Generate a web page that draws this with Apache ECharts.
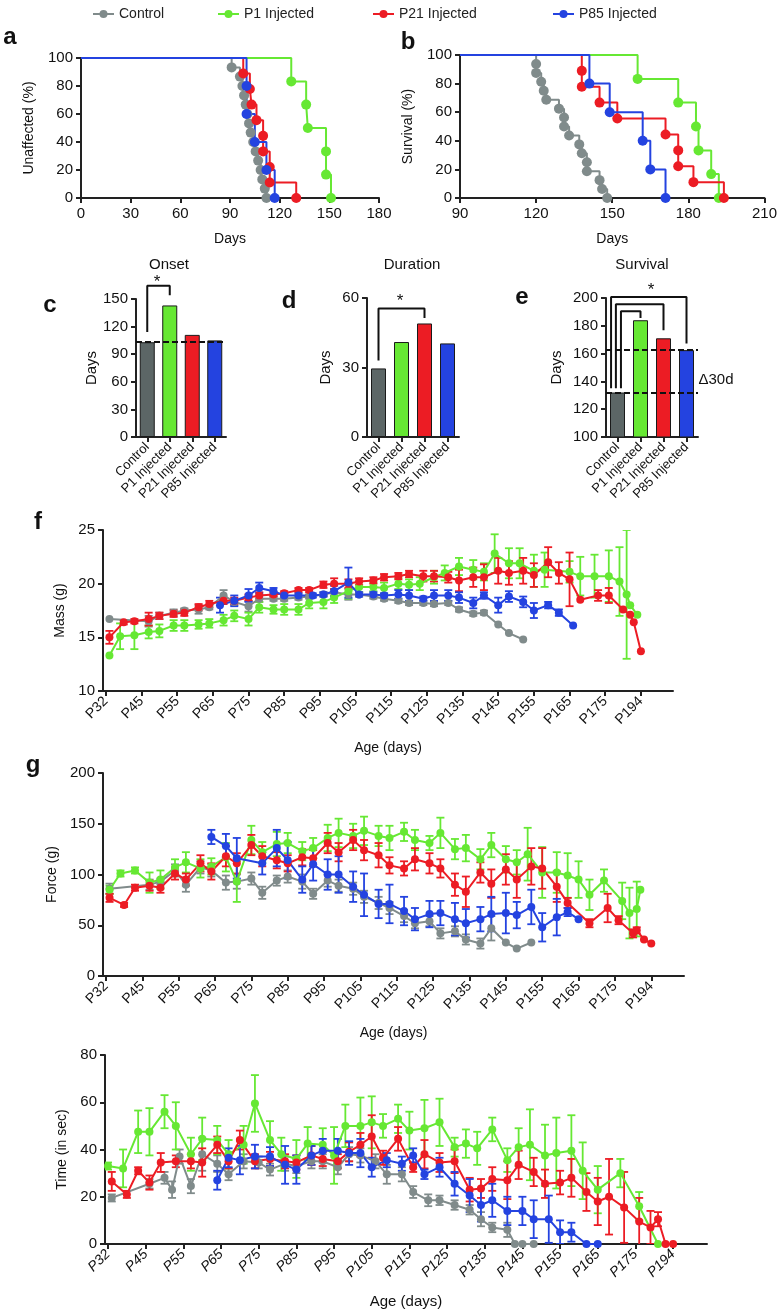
<!DOCTYPE html>
<html><head><meta charset="utf-8">
<script src="https://cdn.jsdelivr.net/npm/echarts@6/dist/echarts.min.js"></script>
<style>html,body{margin:0;padding:0;background:#fff}#c{width:780px;height:1313px}</style>
</head><body><div id="c"></div>
<script>
// ---------- DATA ----------
const groups = ['Control', 'P1 Injected', 'P21 Injected', 'P85 Injected'];
const colors = ['#808b8b', '#66e833', '#ec1c24', '#2443e0'];
const barColors = ['#5c6666', '#66e833', '#ec1c24', '#2443e0'];

// Kaplan-Meier events [day, percent]
const onsetKmControl = [[91,93.3],[96,86.7],[97.5,80],[98.5,73.3],[99.5,66.7],[100.5,60],[101.5,53.3],[102.5,46.7],[104,40],[105.5,33.3],[107,26.7],[108.5,20],[109.5,13.3],[111,6.7],[112,0]];
const onsetKmP1 = [[127,83.3],[136,66.7],[137,50],[148,33.3],[148,16.7],[151,0]];
const onsetKmP21 = [[98,88.9],[102,77.8],[103,66.7],[106,55.6],[110,44.4],[110,33.3],[114,22.2],[114,11.1],[130,0]];
const onsetKmP85 = [[100,80],[100,60],[105,40],[112,20],[117,0]];

const survKmControl = [[120,93.75],[120,87.5],[122,81.25],[123,75],[124,68.75],[129,62.5],[131,56.25],[131,50],[133,43.75],[137,37.5],[138,31.25],[140,25],[140,18.75],[145,12.5],[146,6.25],[148,0]];
const survKmP1 = [[160,83.3],[176,66.7],[183,50],[184,33.3],[189,16.7],[192,0]];
const survKmP21 = [[138,88.9],[138,77.8],[145,66.7],[152,55.6],[171,44.4],[176,33.3],[176,22.2],[182,11.1],[194,0]];
const survKmP85 = [[141,80],[149,60],[162,40],[165,20],[171,0]];

// Bar panels (days)
const onsetDays = [103, 143, 111, 105];
const durationDays = [29.6, 41, 49, 40.4];
const survivalDays = [132, 184, 171, 162.5];

// significance brackets [group position, days]
const onsetBracket = [[0,114],[0,164.5],[1,164.5],[1,154]];
const durationBracket = [[0,33],[0,55.5],[2,55.5],[2,51.4]];
const survivalBrackets = [
  [[-0.28,135],[-0.28,200.7],[3,200.7],[3,167.3]],
  [[-0.07,135],[-0.07,195.5],[2,195.5],[2,176.8]],
  [[0.15,135],[0.15,190.4],[1,190.4],[1,185.6]]
];

// Age axis
const ageTickPos = [35,45,55,65,75,85,95,105,115,125,135,145,155,165,175,185];
const ageTickLabels = ['P32','P45','P55','P65','P75','P85','P95','P105','P115','P125','P135','P145','P155','P165','P175','P194'];

// Mass (g): [age position, mean, error]
const massControl = [[36,16.7,0],[47,16.5,0.5],[50,17.0,0.3],[54,17.3,0.3],[57,17.5,0.2],[61,17.6,0.4],[64,17.8,0.2],[68,18.9,0.5],[71,18.3,0.3],[75,17.9,0.5],[78,18.6,0.3],[82,18.6,0.2],[85,18.6,0.2],[89,18.7,0.2],[92,18.8,0.2],[96,19.0,0.2],[99,19.2,0.3],[103,19.0,0.5],[106,19.0,0.2],[110,18.8,0.2],[113,18.6,0.2],[117,18.4,0.2],[120,18.2,0.2],[124,18.2,0.2],[127,18.1,0.2],[131,18.2,0.2],[134,17.6,0.2],[138,17.2,0.2],[141,17.3,0.2],[145,16.2,0],[148,15.4,0],[152,14.8,0]];
const massP1 = [[36,13.3,0],[39,15.1,1.2],[43,15.2,1.3],[47,15.5,0.6],[50,15.6,0.6],[54,16.1,0.5],[57,16.1,0.5],[61,16.2,0.4],[64,16.3,0.4],[68,16.6,0.5],[71,17.0,0.5],[75,16.7,0.6],[78,17.8,0.5],[82,17.6,0.4],[85,17.6,0.5],[89,17.6,0.5],[92,18.2,0.5],[96,18.3,0.6],[99,18.7,0.5],[103,19.3,0.7],[106,19.7,0.5],[110,19.7,0.4],[113,19.6,0.5],[117,20.0,0.5],[120,19.9,0.5],[123,20.0,0.6],[127,20.6,0.6],[130,21.0,0.7],[134,21.6,0.8],[138,21.3,0.9],[141,21.1,0.8],[144,22.8,1.8],[148,21.9,1.4],[151,21.9,1.4],[155,21.2,1.5],[158,21.3,1.6],[165,21.1,1.0],[168,20.7,1.8],[172,20.7,2.0],[176,20.7,2.4],[179,20.2,3.2],[181,19.0,6.0],[182,18.0,0],[184,17.1,0]];
const massP21 = [[36,15.0,0.6],[40,16.4,0.2],[43,16.5,0.2],[47,16.7,0.6],[50,17.0,0.3],[54,17.2,0.3],[57,17.3,0.3],[61,17.8,0.3],[64,18.1,0.3],[68,18.4,0.3],[71,18.4,0.3],[75,18.7,0.3],[78,18.9,0.3],[82,19.0,0.2],[85,19.1,0.2],[89,19.4,0.2],[92,19.4,0.2],[96,19.9,0.3],[99,20.0,0.5],[103,20.0,0.4],[106,20.2,0.3],[110,20.3,0.3],[113,20.6,0.3],[117,20.7,0.3],[120,20.9,0.3],[124,20.7,0.5],[127,20.7,0.5],[131,20.6,0.5],[134,20.3,1.0],[138,20.6,0.9],[141,20.6,1.2],[145,21.2,1.2],[148,21.0,1.1],[152,21.2,1.2],[155,20.8,1.1],[159,22.0,1.4],[162,21.0,1.0],[165,20.4,2.5],[168,18.5,0],[173,18.9,0.5],[176,18.9,0.7],[180,17.6,0],[182,17.1,0],[183,16.4,0],[185,13.7,0]];
const massP85 = [[67,18.0,0.7],[71,18.4,0.5],[75,18.9,0.6],[78,19.6,0.5],[82,19.3,0.3],[85,18.9,0.2],[89,18.9,0.2],[93,18.9,0.2],[96,19.0,0.2],[99,19.3,0.5],[103,20.1,1.4],[106,19.0,0.2],[110,19.0,0.2],[113,18.9,0.2],[117,19.0,0.4],[120,18.9,0.5],[124,18.6,0.2],[127,18.9,0.5],[131,18.9,0.5],[134,18.7,0.5],[138,18.2,0.5],[141,18.9,0.3],[145,18.0,0.7],[148,18.8,0.5],[152,18.3,0.5],[155,17.5,0.7],[159,18.0,0.3],[162,17.3,0.3],[166,16.1,0]];

// Force (g)
const forceControl = [[36,86,5],[47,90,5],[50,93,3],[54,104,6],[57,90,7],[61,107,6],[64,104,6],[68,92,7],[71,93,7],[75,96,6],[78,82,6],[82,94,5],[85,98,6],[89,93,7],[92,81,5],[96,94,6],[99,89,6],[103,86,6],[106,78,6],[110,72,6],[113,67,6],[117,59,6],[120,52,5],[124,54,5],[127,42,5],[131,44,5],[134,36,5],[138,32,5],[141,47,12],[145,33,0],[148,27,0],[152,33,0]];
const forceP1 = [[36,85,4],[39,101,3],[43,104,3],[47,92,10],[50,95,9],[54,107,8],[57,112,10],[61,106,9],[64,108,8],[68,117,14],[71,93,20],[75,134,14],[78,122,10],[82,130,12],[85,131,10],[89,123,9],[92,126,10],[96,136,13],[99,141,14],[103,138,12],[106,143,14],[110,138,10],[113,136,12],[117,142,9],[120,134,10],[124,131,7],[127,141,15],[131,125,10],[134,126,13],[138,115,10],[141,129,12],[145,115,13],[148,112,12],[151,120,26],[155,102,25],[159,102,20],[162,99,22],[165,95,18],[168,80,15],[172,94,11],[177,74,18],[179,62,25],[181,66,27],[182,85,0]];
const forceP21 = [[36,77,4],[40,70,2],[43,87,3],[47,89,5],[50,87,5],[54,101,6],[57,95,6],[61,111,8],[64,103,8],[68,118,10],[71,111,10],[75,129,10],[78,118,10],[82,114,8],[85,111,8],[89,117,8],[92,116,8],[96,131,10],[99,122,9],[103,134,10],[106,124,10],[110,119,12],[113,109,8],[117,106,7],[120,115,11],[124,111,10],[127,106,9],[131,90,11],[134,83,15],[138,102,10],[141,91,14],[145,105,15],[148,95,18],[152,108,18],[155,106,20],[159,88,15],[162,72,5],[168,52,4],[173,67,14],[176,55,4],[180,42,4],[181,45,3],[183,36,0],[185,32,0]];
const forceP85 = [[64,137,7],[68,128,12],[71,116,20],[78,111,11],[82,126,18],[85,114,18],[89,95,13],[92,110,16],[96,100,15],[99,100,18],[103,88,15],[106,80,21],[110,71,14],[113,71,19],[117,64,14],[120,56,11],[124,61,13],[127,62,12],[131,56,16],[134,52,14],[138,56,12],[141,61,17],[145,62,20],[148,60,13],[152,68,17],[155,48,14],[159,58,18],[162,63,4],[165,56,0]];

// Time (in sec)
const timeControl = [[36,19.5,1.5],[46,25.5,2],[50,28,2.5],[52,23,3.5],[54,37,3],[57,24.5,3],[60,38,7],[64,34,3.5],[67,29.5,2.5],[71,35,3],[75,34.5,2.5],[78,31.5,2.5],[82,34,3],[85,33,3],[89,35,3],[92,35,3],[96,32.5,3],[99,38,3],[102,37.5,3],[106,35,3],[109,29.5,4],[113,29.5,3],[116,22,2.5],[120,18.5,2.5],[123,18.5,2],[127,16.5,2],[131,14.5,2],[134,10.5,3],[137,7,2],[141,6,3],[143,0,0],[145,0,0],[148,0,0]];
const timeP1 = [[35,33,1.5],[39,32,8],[43,47.5,9],[46,47.5,10],[50,56,7],[53,50,10],[57,38,7],[60,44.5,9],[64,44,6],[67,38,6],[71,42,8],[74,59.5,12],[78,44,8],[81,38,7],[85,36,8],[88,42.5,7],[92,42,7],[95,37.5,12],[98,50,9],[102,50,12],[105,51.5,11],[108,50,5],[112,53,6],[115,48,8],[119,49,12],[123,51.5,10],[127,41,4],[130,42.5,6],[133,40.5,7],[137,48.5,5],[141,35.5,5],[144,41,8],[147,42,15],[151,37.5,13],[154,38.5,15],[158,39.5,15],[161,31,12],[165,23,10],[171,30,6],[176,16,6],[181,0,0]];
const timeP21 = [[36,26.5,4],[40,21,1.5],[43,31,1.5],[46,26,3],[49,34.5,4],[53,35,2.5],[57,35,3],[60,34.5,6],[64,42,3.5],[67,35,3],[70,44,4],[74,35,3],[78,36,3],[82,35,3],[85,34.5,3],[89,37.5,4],[92,36,3],[96,35,3],[99,39,4],[102,42,5],[105,45.5,9],[108,36.5,3],[112,44.5,5],[116,32.5,2],[119,38,6],[123,34.5,4],[127,35,5],[131,23,5],[134,23.5,4],[137,27.5,5],[141,27,8],[144,33.5,6],[148,30.5,6],[151,25.5,6],[155,26,5],[158,28,8],[162,22,8],[165,18,10],[168,20,16],[172,15.5,15],[176,9.5,10],[179,7,7],[181,10.5,3],[183,0,0],[185,0,0]];
const timeP85 = [[64,27,4],[67,36.5,4],[70,35.5,6],[74,37,5],[78,37,4],[82,33.5,8],[85,31.5,6],[89,37.5,4],[92,39.5,5],[96,39.5,5],[99,38.5,5],[102,38.5,6],[105,32.5,4],[109,35.5,3],[113,34,3],[116,37.5,3],[119,29.5,2],[123,32.5,4],[127,25.5,5],[131,20.5,7],[134,16.5,7],[137,18.5,7],[141,14,6],[145,14,6],[148,10.5,8],[152,10.5,10],[155,5,5],[158,5,4],[162,0,0],[165,0,0]];

// ---------- CHART ----------
const FONT = '"Liberation Sans", Arial, sans-serif';
const NARROW = '"Liberation Sans Narrow", "Liberation Sans", Arial, sans-serif';
const chart = echarts.init(document.getElementById('c'));

const grids = [
  {left:81, top:58, width:298, height:140},   // a
  {left:460, top:55, width:307, height:143},  // b
  {left:136, top:299, width:90, height:138},  // c
  {left:367, top:298, width:92, height:139},  // d
  {left:606, top:298, width:92, height:139},  // e
  {left:103, top:530, width:570, height:161}, // f
  {left:103, top:773, width:581, height:203}, // g
  {left:105, top:1055, width:602, height:189} // time
];

const aLine = {show:true, onZero:false, lineStyle:{color:'#222', width:2}};
const aTick = {show:true, length:5, lineStyle:{color:'#222', width:2}};
function lbl(size, extra){ return Object.assign({color:'#111', fontSize:size, fontFamily:FONT}, extra||{}); }
function nameStyle(size){ return {color:'#111', fontSize:size, fontFamily:FONT}; }

const xAxes = [], yAxes = [];
// a
xAxes.push({gridIndex:0, type:'value', min:0, max:180, interval:30, axisLine:aLine, axisTick:aTick, splitLine:{show:false}, axisLabel:lbl(15,{margin:8}), name:'Days', nameLocation:'middle', nameGap:34, nameTextStyle:nameStyle(14)});
yAxes.push({gridIndex:0, type:'value', min:0, max:100, interval:20, axisLine:aLine, axisTick:aTick, splitLine:{show:false}, axisLabel:lbl(15), name:'Unaffected (%)', nameLocation:'middle', nameGap:45, nameTextStyle:nameStyle(14)});
// b
xAxes.push({gridIndex:1, type:'value', min:90, max:210, interval:30, axisLine:aLine, axisTick:aTick, splitLine:{show:false}, axisLabel:lbl(15,{margin:8}), name:'Days', nameLocation:'middle', nameGap:34, nameTextStyle:nameStyle(14)});
yAxes.push({gridIndex:1, type:'value', min:0, max:100, interval:20, axisLine:aLine, axisTick:aTick, splitLine:{show:false}, axisLabel:lbl(15), name:'Survival (%)', nameLocation:'middle', nameGap:45, nameTextStyle:nameStyle(14)});
// c, d, e
const barY = [{min:0,max:150,interval:30,gap:32},{min:0,max:60,interval:30,gap:34},{min:100,max:200,interval:20,gap:42}];
barY.forEach((b, i) => {
  const gi = 2 + i;
  xAxes.push({gridIndex:gi, type:'value', min:-0.5, max:3.5, axisLine:aLine, axisTick:Object.assign({}, aTick, {customValues:[0,1,2,3]}), splitLine:{show:false},
    axisLabel:lbl(13,{customValues:[0,1,2,3], rotate:45, margin:8, fontFamily:FONT, formatter:v => groups[Math.round(v)]})});
  yAxes.push({gridIndex:gi, type:'value', min:b.min, max:b.max, interval:b.interval, axisLine:aLine, axisTick:aTick, splitLine:{show:false},
    axisLabel:lbl(15,{fontFamily:NARROW}), name:'Days', nameLocation:'middle', nameGap:b.gap, nameTextStyle:{color:'#111', fontSize:15, fontFamily:NARROW}});
});
// f, g, time
const tsY = [{min:10,max:25,interval:5,name:'Mass (g)',gap:36},{min:0,max:200,interval:50,name:'Force (g)',gap:42},{min:0,max:80,interval:20,name:'Time (in sec)',gap:36}];
tsY.forEach((t, i) => {
  const gi = 5 + i;
  const italic = i === 2;
  xAxes.push({gridIndex:gi, type:'value', min:34.2, max:194, axisLine:aLine,
    axisTick:Object.assign({}, aTick, {customValues:ageTickPos}), splitLine:{show:false},
    axisLabel:lbl(14,{customValues:ageTickPos, rotate:45, margin:8, fontStyle: italic ? 'italic' : 'normal', fontFamily: italic ? NARROW : FONT,
      formatter:v => ageTickLabels[ageTickPos.indexOf(Math.round(v))] || ''}),
    name:'Age (days)', nameLocation:'middle', nameGap:50, nameTextStyle: italic ? {color:'#111', fontSize:15, fontFamily:NARROW} : nameStyle(14)});
  yAxes.push({gridIndex:gi, type:'value', min:t.min, max:t.max, interval:t.interval, axisLine:aLine, axisTick:aTick, splitLine:{show:false},
    axisLabel:lbl(15), name:t.name, nameLocation:'middle', nameGap:t.gap, nameTextStyle:nameStyle(14)});
});

const series = [];
// KM
function km(gi, start, sets) {
  sets.forEach((ev, k) => {
    series.push({type:'line', name:groups[k], xAxisIndex:gi, yAxisIndex:gi, step:'end', symbol:'circle', symbolSize:10,
      color:colors[k], lineStyle:{width:2, color:colors[k]}, itemStyle:{color:colors[k]}, clip:false,
      data:[{value:[start,100], symbol:'none'}].concat(ev.map(e => ({value:e})))});
  });
}
km(0, 0, [onsetKmControl, onsetKmP1, onsetKmP21, onsetKmP85]);
km(1, 90, [survKmControl, survKmP1, survKmP21, survKmP85]);

// Bars
function bars(gi, name, vals, marks, brackets) {
  series.push({type:'bar', name, xAxisIndex:gi, yAxisIndex:gi, barWidth:15,
    data: vals.map((v, k) => ({value:[k, v], itemStyle:{color:barColors[k], borderColor:'#1a1a1a', borderWidth:1}})),
    markLine: marks.length ? {symbol:'none', silent:true, label:{show:false}, lineStyle:{type:[6,3], color:'#111', width:2}, data: marks.map(m => ({yAxis:m}))} : undefined,
    z:2});
  brackets.forEach(b => {
    series.push({type:'line', name:name + ' sig', xAxisIndex:gi, yAxisIndex:gi, symbol:'none', clip:false, silent:true,
      lineStyle:{color:'#111', width:2}, data:b, z:3});
  });
}
bars(2, 'Onset', onsetDays, [onsetDays[0]], [onsetBracket]);
bars(3, 'Duration', durationDays, [], [durationBracket]);
bars(4, 'Survival', survivalDays, [survivalDays[3], survivalDays[0]], survivalBrackets);

// Time-course with error bars
function errRender(params, api) {
  const x = api.value(0), lo = api.value(1), hi = api.value(2);
  const p1 = api.coord([x, hi]), p2 = api.coord([x, lo]);
  const w = 4;
  const style = {stroke: api.visual('color'), lineWidth: 1.8};
  return {type:'group', children:[
    {type:'line', shape:{x1:p1[0], y1:p1[1], x2:p2[0], y2:p2[1]}, style},
    {type:'line', shape:{x1:p1[0]-w, y1:p1[1], x2:p1[0]+w, y2:p1[1]}, style},
    {type:'line', shape:{x1:p2[0]-w, y1:p2[1], x2:p2[0]+w, y2:p2[1]}, style}
  ]};
}
function ts(gi, sets) {
  sets.forEach((arr, k) => {
    series.push({type:'custom', name:groups[k], xAxisIndex:gi, yAxisIndex:gi, renderItem:errRender, clip:true, silent:true,
      itemStyle:{color:colors[k]}, encode:{x:0, y:[1,2]},
      data: arr.filter(d => d[2] > 0).map(d => [d[0], d[1] - d[2], d[1] + d[2]])});
    series.push({type:'line', name:groups[k], xAxisIndex:gi, yAxisIndex:gi, symbol:'circle', symbolSize:8,
      color:colors[k], lineStyle:{width:2, color:colors[k]}, itemStyle:{color:colors[k]},
      data: arr.map(d => [d[0], d[1]])});
  });
}
ts(5, [massControl, massP1, massP21, massP85]);
ts(6, [forceControl, forceP1, forceP21, forceP85]);
ts(7, [timeControl, timeP1, timeP21, timeP85]);

// Legends (one per entry to match spacing)
const legendLeft = [87, 212, 367, 547];
const legends = groups.map((g, k) => ({left:legendLeft[k], top:2, data:[g], itemWidth:21, itemHeight:10, itemGap:5,
  textStyle:{fontSize:14, color:'#222', fontFamily:FONT}, selectedMode:false}));

// Text annotations
function txt(t, x, y, size, bold, fam) {
  return {type:'text', x, y, style:{text:t, fill:'#111', font:(bold ? 'bold ' : '') + size + 'px ' + (fam || FONT), textAlign:'center', textVerticalAlign:'middle'}};
}
const graphics = [
  txt('a', 10, 37, 24, true), txt('b', 408, 42, 24, true), txt('c', 50, 305, 24, true), txt('d', 289, 301, 24, true),
  txt('e', 522, 297, 24, true), txt('f', 38, 522, 24, true), txt('g', 33, 765, 24, true),
  txt('Onset', 169, 265, 15, false, NARROW), txt('Duration', 412, 265, 15, false, NARROW), txt('Survival', 642, 265, 15, false, NARROW),
  txt('*', 157, 282, 17), txt('*', 400, 301, 17), txt('*', 651, 290, 17),
  txt('Δ30d', 716, 380, 15, false, NARROW)
];

chart.setOption({
  animation:false,
  backgroundColor:'#fff',
  textStyle:{fontFamily:FONT},
  grid:grids, xAxis:xAxes, yAxis:yAxes, series, legend:legends, graphic:graphics
});
</script></body></html>
